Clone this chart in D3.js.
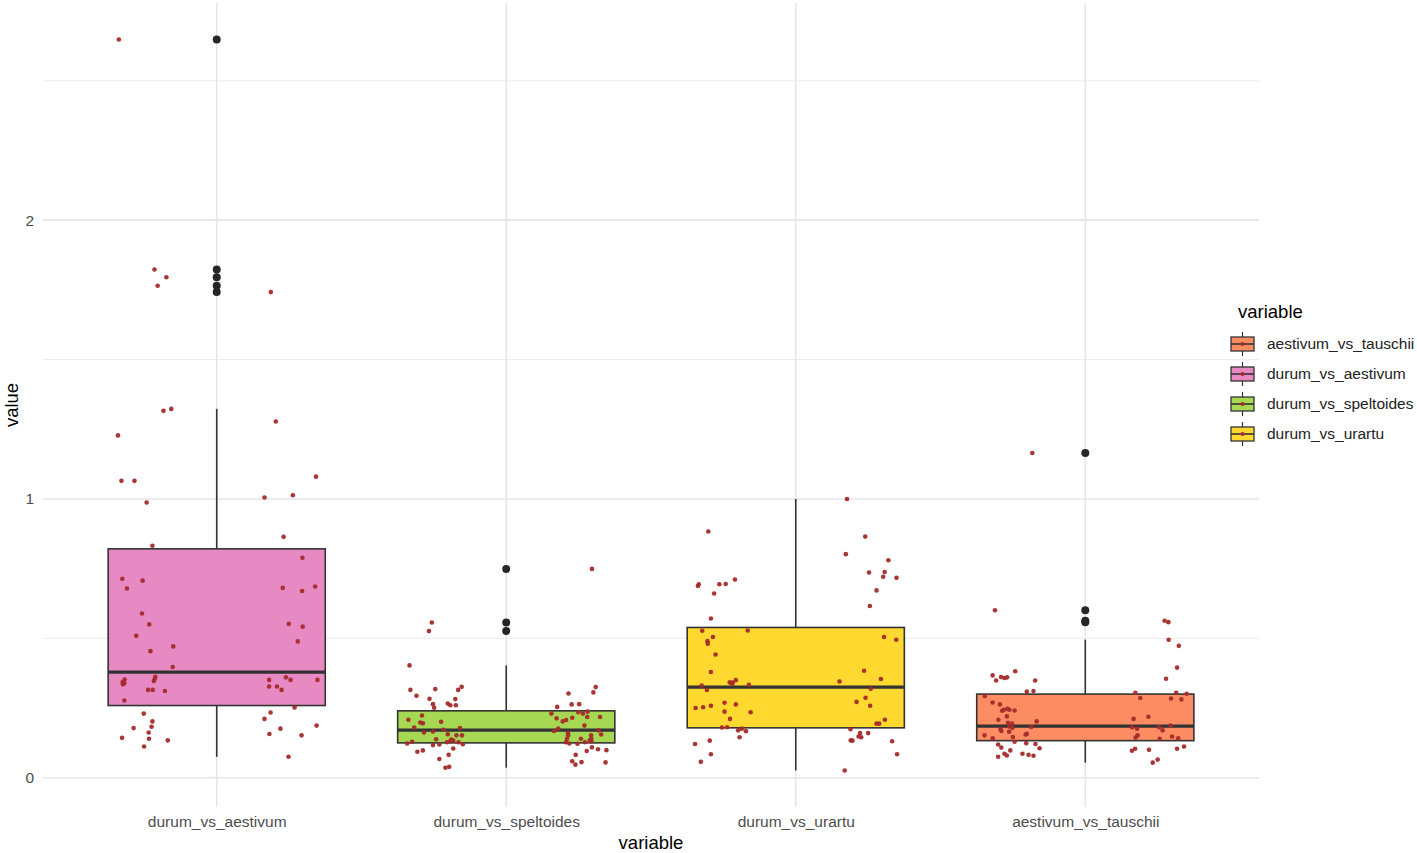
<!DOCTYPE html>
<html>
<head>
<meta charset="utf-8">
<script src="https://cdn.jsdelivr.net/npm/d3@7/dist/d3.min.js"></script>
<style>
  html, body { margin: 0; padding: 0; background: #fff; }
  svg { display: block; font-family: "Liberation Sans", Arial, Helvetica, sans-serif; }
</style>
</head>
<body>
<svg id="chart" width="1417" height="853"></svg>
<script>
// ---------------- DATA ----------------
const categories = ["durum_vs_aestivum", "durum_vs_speltoides", "durum_vs_urartu", "aestivum_vs_tauschii"];
const legendOrder = ["aestivum_vs_tauschii", "durum_vs_aestivum", "durum_vs_speltoides", "durum_vs_urartu"];
const fills = ["#E78AC3", "#A6D854", "#FFD92F", "#FC8D62"];
const yTicks = [0, 1, 2];
const yMinor = [0.5, 1.5, 2.5];

// box statistics (per category)
const q1 = [0.259, 0.125, 0.179, 0.133];
const medians = [0.379, 0.171, 0.325, 0.185];
const q3 = [0.821, 0.240, 0.539, 0.300];
const whiskerLo = [0.075, 0.036, 0.026, 0.054];
const whiskerHi = [1.323, 0.403, 1.000, 0.495];

// observed values and their horizontal jitter (in category-step units)
const aestivumValues = [2.648,1.823,1.795,1.765,1.742,1.316,1.323,1.278,1.228,1.065,1.065,1.080,0.987,1.005,1.013,0.832,0.864,0.789,0.714,0.707,0.679,0.681,0.670,0.686,0.589,0.550,0.552,0.542,0.509,0.489,0.454,0.471,0.397,0.343,0.339,0.335,0.352,0.355,0.362,0.347,0.315,0.315,0.311,0.277,0.351,0.360,0.351,0.351,0.327,0.327,0.315,0.252,0.230,0.234,0.211,0.202,0.183,0.178,0.162,0.187,0.176,0.143,0.140,0.134,0.157,0.152,0.112,0.075];
const aestivumJitter = [-0.338,-0.215,-0.174,-0.204,0.187,-0.184,-0.157,0.204,-0.341,-0.329,-0.284,0.343,-0.242,0.165,0.263,-0.222,0.231,0.296,-0.326,-0.256,-0.310,0.228,0.295,0.340,-0.258,-0.233,0.249,0.297,-0.278,0.280,-0.229,-0.150,-0.152,-0.325,-0.319,-0.324,-0.318,-0.214,-0.212,-0.217,-0.237,-0.221,-0.179,-0.319,0.181,0.239,0.255,0.348,0.181,0.208,0.224,0.269,-0.252,0.186,0.165,-0.222,-0.225,-0.287,-0.235,0.345,0.220,-0.327,-0.234,-0.169,0.182,0.293,-0.251,0.248];

const speltoidesValues = [0.749,0.557,0.526,
  0.403,0.315,0.294,0.318,0.283,0.264,0.251,0.315,0.326,0.282,0.266,0.260,0.260,0.223,0.208,0.198,0.195,0.201,0.180,0.162,0.166,0.172,0.156,0.178,0.152,0.152,0.138,0.137,0.133,0.131,0.127,0.129,0.123,0.117,0.119,0.120,0.127,0.093,0.098,0.105,0.067,0.082,0.036,0.039,
  0.325,0.306,0.302,0.263,0.264,0.254,0.235,0.230,0.237,0.230,0.213,0.202,0.207,0.215,0.218,0.218,0.187,0.168,0.176,0.161,0.152,0.170,0.155,0.152,0.140,0.140,0.140,0.133,0.127,0.123,0.122,0.127,0.130,0.109,0.096,0.102,0.099,0.082,0.059,0.047,0.056,0.055];
const speltoidesJitter = [0.296,-0.257,-0.267,
  -0.334,-0.331,-0.310,-0.245,-0.265,-0.253,-0.249,-0.166,-0.154,-0.176,-0.202,-0.193,-0.174,-0.291,-0.338,-0.297,-0.288,-0.225,-0.318,-0.284,-0.253,-0.217,-0.202,-0.160,-0.172,-0.153,-0.242,-0.190,-0.183,-0.193,-0.205,-0.325,-0.342,-0.253,-0.231,-0.150,-0.165,-0.307,-0.288,-0.183,-0.231,-0.199,-0.210,-0.197,
  0.309,0.301,0.215,0.226,0.252,0.176,0.249,0.265,0.281,0.156,0.174,0.195,0.207,0.228,0.280,0.324,0.270,0.165,0.180,0.213,0.214,0.319,0.328,0.293,0.294,0.210,0.258,0.288,0.206,0.218,0.246,0.272,0.294,0.296,0.278,0.317,0.346,0.240,0.228,0.239,0.260,0.343];

const urartuValues = [0.883,0.688,0.694,0.694,0.695,0.711,0.661,0.571,0.527,0.528,0.505,0.490,0.481,0.442,0.379,0.331,0.315,0.342,0.341,0.350,0.337,0.333,0.250,0.253,0.258,0.269,0.263,0.237,0.235,0.211,0.180,0.181,0.170,0.176,0.167,0.145,0.121,0.133,0.084,0.057,
  1.000,0.865,0.802,0.780,0.736,0.738,0.721,0.717,0.672,0.616,0.505,0.495,0.384,0.354,0.345,0.319,0.287,0.272,0.258,0.208,0.194,0.194,0.174,0.160,0.160,0.148,0.145,0.134,0.133,0.131,0.084,0.026];
const urartuJitter = [-0.302,-0.338,-0.335,-0.264,-0.242,-0.210,-0.282,-0.293,-0.323,-0.166,-0.286,-0.305,-0.304,-0.277,-0.293,-0.325,-0.307,-0.228,-0.218,-0.207,-0.220,-0.162,-0.346,-0.320,-0.293,-0.246,-0.207,-0.246,-0.156,-0.227,-0.255,-0.237,-0.199,-0.186,-0.172,-0.194,-0.348,-0.297,-0.293,-0.328,
  0.177,0.240,0.173,0.320,0.253,0.307,0.302,0.348,0.279,0.256,0.305,0.347,0.236,0.294,0.151,0.259,0.241,0.210,0.257,0.308,0.279,0.288,0.189,0.222,0.250,0.217,0.226,0.190,0.196,0.333,0.350,0.169];

const tauschiiValues = [1.165,0.601,0.563,0.558,
  0.367,0.349,0.361,0.358,0.360,0.382,0.349,0.309,0.311,0.293,0.270,0.263,0.240,0.244,0.247,0.244,0.241,0.220,0.208,0.197,0.194,0.184,0.202,0.175,0.168,0.179,0.182,0.165,0.152,0.158,0.155,0.146,0.141,0.129,0.124,0.121,0.119,0.108,0.098,0.106,0.086,0.080,0.086,0.082,0.079,0.075,
  0.495,0.473,0.395,0.355,0.305,0.286,0.305,0.301,0.284,0.281,0.219,0.211,0.181,0.176,0.181,0.187,0.170,0.152,0.144,0.140,0.148,0.141,0.112,0.104,0.104,0.097,0.100,0.054,0.065];
const tauschiiJitter = [-0.183,-0.312,0.274,0.287,
  -0.320,-0.308,-0.291,-0.279,-0.270,-0.242,-0.173,-0.202,-0.179,-0.347,-0.320,-0.295,-0.287,-0.281,-0.269,-0.262,-0.244,-0.271,-0.300,-0.267,-0.253,-0.263,-0.168,-0.293,-0.290,-0.252,-0.187,-0.263,-0.348,-0.202,-0.206,-0.250,-0.320,-0.244,-0.204,-0.172,-0.301,-0.290,-0.259,-0.158,-0.279,-0.271,-0.217,-0.196,-0.179,-0.301,
  0.288,0.323,0.317,0.279,0.173,0.190,0.314,0.350,0.296,0.332,0.218,0.167,0.162,0.179,0.255,0.294,0.267,0.181,0.174,0.257,0.300,0.321,0.341,0.317,0.172,0.161,0.220,0.233,0.250];

const valuesByCat = [aestivumValues, speltoidesValues, urartuValues, tauschiiValues];
const jitterByCat = [aestivumJitter, speltoidesJitter, urartuJitter, tauschiiJitter];

// ---------------- LAYOUT ----------------
const W = 1417, H = 853;
const panel = { left: 43, right: 1259, top: 3, bottom: 807 };
const svg = d3.select("#chart");

const x = d3.scalePoint().domain(categories).range([panel.left, panel.right]).padding(0.6);
const step = x.step();
const y = d3.scaleLinear().domain([-0.105, 2.779]).range([panel.bottom, panel.top]);
const colorScale = d3.scaleOrdinal().domain(categories).range(fills);

const grid = svg.append("g");
grid.selectAll("line.minor").data(yMinor).join("line")
  .attr("x1", panel.left).attr("x2", panel.right)
  .attr("y1", d => y(d)).attr("y2", d => y(d))
  .attr("stroke", "#ececec").attr("stroke-width", 1);
grid.selectAll("line.major").data(yTicks).join("line")
  .attr("x1", panel.left).attr("x2", panel.right)
  .attr("y1", d => y(d)).attr("y2", d => y(d))
  .attr("stroke", "#e6e6e6").attr("stroke-width", 1.6);
grid.selectAll("line.vmajor").data(categories).join("line")
  .attr("x1", d => x(d)).attr("x2", d => x(d))
  .attr("y1", panel.top).attr("y2", panel.bottom)
  .attr("stroke", "#e6e6e6").attr("stroke-width", 1.6);

// axes (text only)
const yAxis = svg.append("g").attr("transform", `translate(${panel.left},0)`)
  .call(d3.axisLeft(y).tickValues(yTicks).tickSize(0).tickPadding(9).tickFormat(d3.format("d")));
yAxis.select(".domain").remove();
yAxis.selectAll("text").attr("fill", "#4d4d4d").style("font-size", "15.5px")
  .style("font-family", '"Liberation Sans", Arial, sans-serif');

const xAxis = svg.append("g").attr("transform", `translate(0,${panel.bottom})`)
  .call(d3.axisBottom(x).tickSize(0).tickPadding(9));
xAxis.select(".domain").remove();
xAxis.selectAll("text").attr("fill", "#4d4d4d").style("font-size", "15.5px")
  .style("font-family", '"Liberation Sans", Arial, sans-serif');

// axis titles
svg.append("text").attr("x", (panel.left + panel.right) / 2).attr("y", 849)
  .attr("text-anchor", "middle").attr("fill", "#000").style("font-size", "18.5px").text("variable");
svg.append("text").attr("transform", `translate(18,${(panel.top + panel.bottom) / 2}) rotate(-90)`)
  .attr("text-anchor", "middle").attr("fill", "#000").style("font-size", "18.5px").text("value");

// boxes
const boxW = step * 0.75;
const stroke = "#333333";
const boxes = svg.append("g");
categories.forEach((c, i) => {
  const cx = x(c);
  const g = boxes.append("g");
  g.append("line").attr("x1", cx).attr("x2", cx).attr("y1", y(q3[i])).attr("y2", y(whiskerHi[i]))
    .attr("stroke", stroke).attr("stroke-width", 1.6);
  g.append("line").attr("x1", cx).attr("x2", cx).attr("y1", y(q1[i])).attr("y2", y(whiskerLo[i]))
    .attr("stroke", stroke).attr("stroke-width", 1.6);
  g.append("rect").attr("x", cx - boxW / 2).attr("width", boxW)
    .attr("y", y(q3[i])).attr("height", y(q1[i]) - y(q3[i]))
    .attr("fill", colorScale(c)).attr("stroke", stroke).attr("stroke-width", 1.6);
  g.append("line").attr("x1", cx - boxW / 2).attr("x2", cx + boxW / 2)
    .attr("y1", y(medians[i])).attr("y2", y(medians[i]))
    .attr("stroke", stroke).attr("stroke-width", 3.2);
  const outl = valuesByCat[i].filter(v => v > whiskerHi[i] || v < whiskerLo[i]);
  g.selectAll("circle").data(outl).join("circle")
    .attr("cx", cx).attr("cy", d => y(d)).attr("r", 4).attr("fill", "#262626");
});

// jittered points
const pts = svg.append("g");
categories.forEach((c, i) => {
  const data = valuesByCat[i].map((v, k) => ({ v, j: jitterByCat[i][k] }));
  pts.selectAll(null).data(data).join("circle")
    .attr("cx", d => x(c) + d.j * step).attr("cy", d => y(d.v))
    .attr("r", 2.3).attr("fill", "#a52a2a").attr("opacity", 0.95);
});

// legend
const leg = svg.append("g");
leg.append("text").attr("x", 1238).attr("y", 318).attr("fill", "#000")
  .style("font-size", "18.5px").text("variable");
const keyColor = d3.scaleOrdinal().domain(categories).range(fills);
legendOrder.forEach((name, i) => {
  const cy = 344 + 30 * i;
  const kx = 1231, kw = 23, kcx = kx + kw / 2;
  const g = leg.append("g");
  g.append("line").attr("x1", kcx).attr("x2", kcx).attr("y1", cy - 12).attr("y2", cy + 12)
    .attr("stroke", stroke).attr("stroke-width", 1.2);
  g.append("rect").attr("x", kx).attr("y", cy - 7).attr("width", kw).attr("height", 14)
    .attr("fill", keyColor(name)).attr("stroke", stroke).attr("stroke-width", 1.3);
  g.append("line").attr("x1", kx).attr("x2", kx + kw).attr("y1", cy).attr("y2", cy)
    .attr("stroke", stroke).attr("stroke-width", 1.6);
  g.append("circle").attr("cx", kcx).attr("cy", cy).attr("r", 2).attr("fill", "#a52a2a");
  g.append("text").attr("x", 1267).attr("y", cy).attr("dy", "0.35em").attr("fill", "#222")
    .style("font-size", "15.5px").text(name);
});
</script>
</body>
</html>
